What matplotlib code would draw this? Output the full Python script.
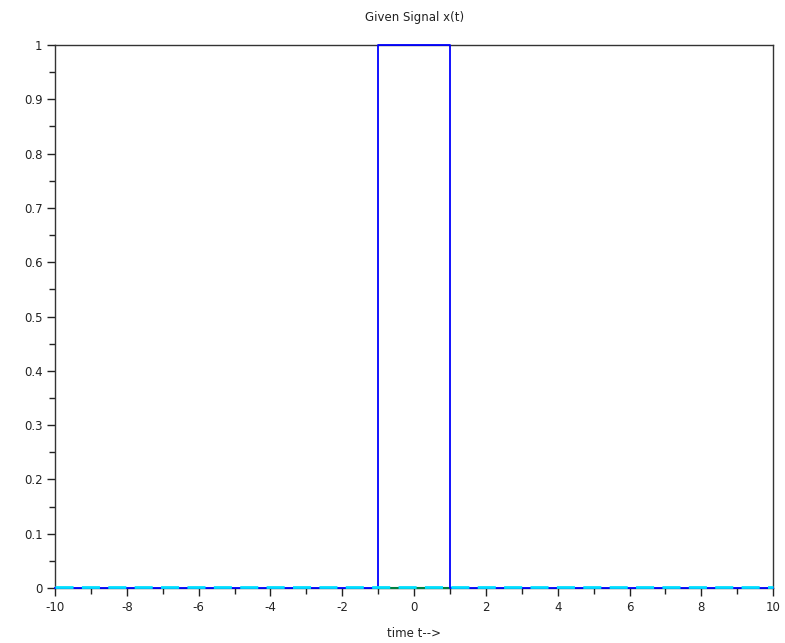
import matplotlib
matplotlib.use("Agg")
import matplotlib.pyplot as plt
import matplotlib.transforms as mtransforms
import numpy as np

# signal data
t_pulse = [-10, -1, -1, 1, 1, 10]
x_pulse = [0, 0, 1, 1, 0, 0]
t_zero = [-10, 10]
y_zero = [0, 0]
t_mid = [-1, 1]
y_mid = [0, 0]

xticks = [-10, -8, -6, -4, -2, 0, 2, 4, 6, 8, 10]
yticks = [0, 0.1, 0.2, 0.3, 0.4, 0.5, 0.6, 0.7, 0.8, 0.9, 1]
ytick_labels = ['0', '0.1', '0.2', '0.3', '0.4', '0.5', '0.6', '0.7', '0.8', '0.9', '1']

fig = plt.figure(figsize=(7.85, 6.43), dpi=100)
ax = fig.add_axes([0.070, 0.0855, 0.915, 0.8445])

# dashed zero line sits a hair above the pulse baseline
shift = mtransforms.ScaledTranslation(0, 1.2 / 100, fig.dpi_scale_trans)
ax.plot(t_mid, y_mid, color='#007f3f', lw=1.5, zorder=4, clip_on=False)
ax.plot(t_pulse, x_pulse, color='#0000ff', lw=1.3, zorder=5, clip_on=False)
ax.plot(t_zero, y_zero, color='#00dfff', lw=2, dashes=(6.5, 3), zorder=6,
        clip_on=False, transform=ax.transData + shift)

ax.set_xlim(-10, 10)
ax.set_ylim(0, 1)
ax.set_xticks(xticks)
ax.set_xticklabels([str(v) for v in xticks])
ax.set_yticks(yticks)
ax.set_yticklabels(ytick_labels)
ax.set_xticks(np.arange(-9, 10, 2), minor=True)
ax.set_yticks(np.arange(0.05, 1.0, 0.1), minor=True)

ax.tick_params(which='major', direction='out', length=6, width=1, labelsize=8.5,
               colors='#222222', pad=3)
ax.tick_params(which='minor', direction='out', length=4, width=1, colors='#222222')
for s in ax.spines.values():
    s.set_color('#333333')
    s.set_linewidth(1)
    s.set_zorder(3)

ax.set_title('Given Signal x(t)', fontsize=8.5, color='#222222', pad=17)
ax.set_xlabel('time t-->', fontsize=8.5, color='#222222', labelpad=10)

fig.savefig('out.png', dpi=100)
